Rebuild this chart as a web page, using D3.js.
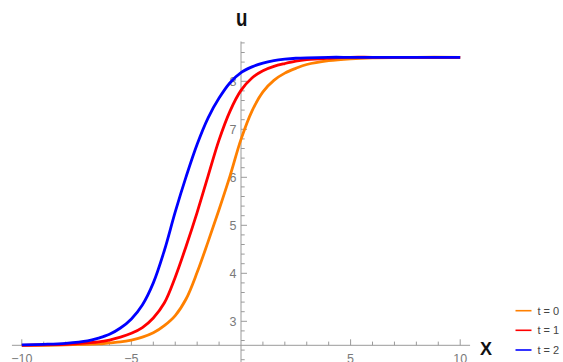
<!DOCTYPE html>
<html>
<head>
<meta charset="utf-8">
<script src="https://cdn.jsdelivr.net/npm/d3@7"></script>
<style>
  html, body { margin: 0; padding: 0; background: #fff; }
  svg { display: block; }
</style>
</head>
<body>
<svg id="chart" width="563" height="362"></svg>
<script>
// ---- data ----
const xValues = [-10,-9,-8,-7,-6.5,-6,-5.5,-5,-4.5,-4,-3.5,-3,-2.5,-2,-1.5,-1,-0.5,0,0.5,1,1.5,2,2.5,3,4,5,6,8,10];
const uT0 = [2.50,2.50,2.51,2.52,2.53,2.55,2.57,2.61,2.67,2.76,2.91,3.12,3.47,4.02,4.66,5.33,6.03,6.79,7.38,7.78,8.02,8.17,8.27,8.35,8.43,8.47,8.49,8.50,8.50];
const uT1 = [2.50,2.51,2.52,2.55,2.57,2.61,2.67,2.75,2.87,3.07,3.38,3.92,4.57,5.27,6.03,6.78,7.38,7.81,8.07,8.22,8.31,8.37,8.42,8.45,8.48,8.50,8.50,8.50,8.50];
const uT2 = [2.51,2.52,2.54,2.59,2.65,2.73,2.86,3.05,3.34,3.80,4.47,5.28,6.02,6.69,7.24,7.65,7.97,8.18,8.30,8.38,8.43,8.46,8.48,8.49,8.50,8.50,8.50,8.50,8.50];
const seriesNames = ["t = 0", "t = 1", "t = 2"];
const seriesColors = ["#FF8000", "#FF0000", "#0000FF"];
const xMajorTicks = [-10, -5, 5, 10];
const xMinorTicks = [-10,-9,-8,-7,-6,-5,-4,-3,-2,-1,1,2,3,4,5,6,7,8,9,10];
const yMajorTicks = [3, 4, 5, 6, 7, 8];
const yMinorTicks = d3.range(11, 45).map(i => +(i * 0.2).toFixed(1));
const xAxisAt = 2.5;   // u value where the horizontal axis crosses

const svg = d3.select("#chart");
const x = d3.scaleLinear().domain([-10, 10]).range([21.8, 460.2]);
const y = d3.scaleLinear().domain([3, 8]).range([321.3, 81.3]);

const axisColor = "#9a9a9a";
const labelColor = "#7a7a7a";
const fontFam = "'Liberation Sans', Arial, sans-serif";

// horizontal axis
const y0 = y(xAxisAt);
svg.append("line").attr("x1", x(-10.45)).attr("x2", x(10.45))
  .attr("y1", y0).attr("y2", y0).attr("stroke", axisColor).attr("stroke-width", 1);
svg.selectAll(".xminor").data(xMinorTicks).enter().append("line")
  .attr("x1", d => x(d)).attr("x2", d => x(d))
  .attr("y1", y0).attr("y2", d => y0 - (xMajorTicks.includes(d) ? 6 : 3.7))
  .attr("stroke", axisColor).attr("stroke-width", 1);
svg.selectAll(".xlab").data(xMajorTicks).enter().append("text")
  .attr("x", d => x(d)).attr("y", 362.5)
  .attr("text-anchor", "middle").attr("font-family", fontFam).attr("font-size", 12.5)
  .attr("fill", labelColor).text(d => d < 0 ? "\u2212" + Math.abs(d) : d);

// vertical axis
const x0 = x(0);
svg.append("line").attr("x1", x0).attr("x2", x0)
  .attr("y1", y(8.83)).attr("y2", 362).attr("stroke", axisColor).attr("stroke-width", 1);
svg.selectAll(".ytick").data(yMinorTicks).enter().append("line")
  .attr("x1", x0).attr("x2", d => x0 + (yMajorTicks.includes(d) ? 6 : 3.7))
  .attr("y1", d => y(d)).attr("y2", d => y(d))
  .attr("stroke", axisColor).attr("stroke-width", 1);
svg.selectAll(".ylab").data(yMajorTicks).enter().append("text")
  .attr("x", x0 - 4.5).attr("y", d => y(d) + 4.5)
  .attr("text-anchor", "end").attr("font-family", fontFam).attr("font-size", 12.5)
  .attr("fill", labelColor).text(d => d);

// axis titles
svg.append("text").attr("transform", `translate(${x0 + 0.8},26) scale(0.78,1)`)
  .attr("text-anchor", "middle").attr("font-family", fontFam).attr("font-weight", "bold")
  .attr("font-size", 24).attr("fill", "#111").text("u");
svg.append("text").attr("x", 486).attr("y", 355)
  .attr("text-anchor", "middle").attr("font-family", fontFam).attr("font-weight", "bold")
  .attr("font-size", 18).attr("fill", "#111").text("X");

// curves
const line = d3.line().x(d => x(d[0])).y(d => y(d[1])).curve(d3.curveCatmullRom.alpha(0.5));
[uT0, uT1, uT2].forEach((vals, i) => {
  svg.append("path").datum(xValues.map((xv, j) => [xv, vals[j]]))
    .attr("d", line).attr("fill", "none")
    .attr("stroke", seriesColors[i]).attr("stroke-width", 2.8)
    .attr("stroke-linejoin", "round").attr("stroke-linecap", "butt");
});

// legend
const legendY = [310.7, 330.3, 350];
seriesNames.forEach((name, i) => {
  svg.append("line").attr("x1", 515.5).attr("x2", 531.5)
    .attr("y1", legendY[i]).attr("y2", legendY[i])
    .attr("stroke", seriesColors[i]).attr("stroke-width", 1.6);
  svg.append("text").attr("x", 537.5).attr("y", legendY[i] + 4)
    .attr("font-family", fontFam).attr("font-size", 11).attr("fill", "#444").text(name);
});
</script>
</body>
</html>
